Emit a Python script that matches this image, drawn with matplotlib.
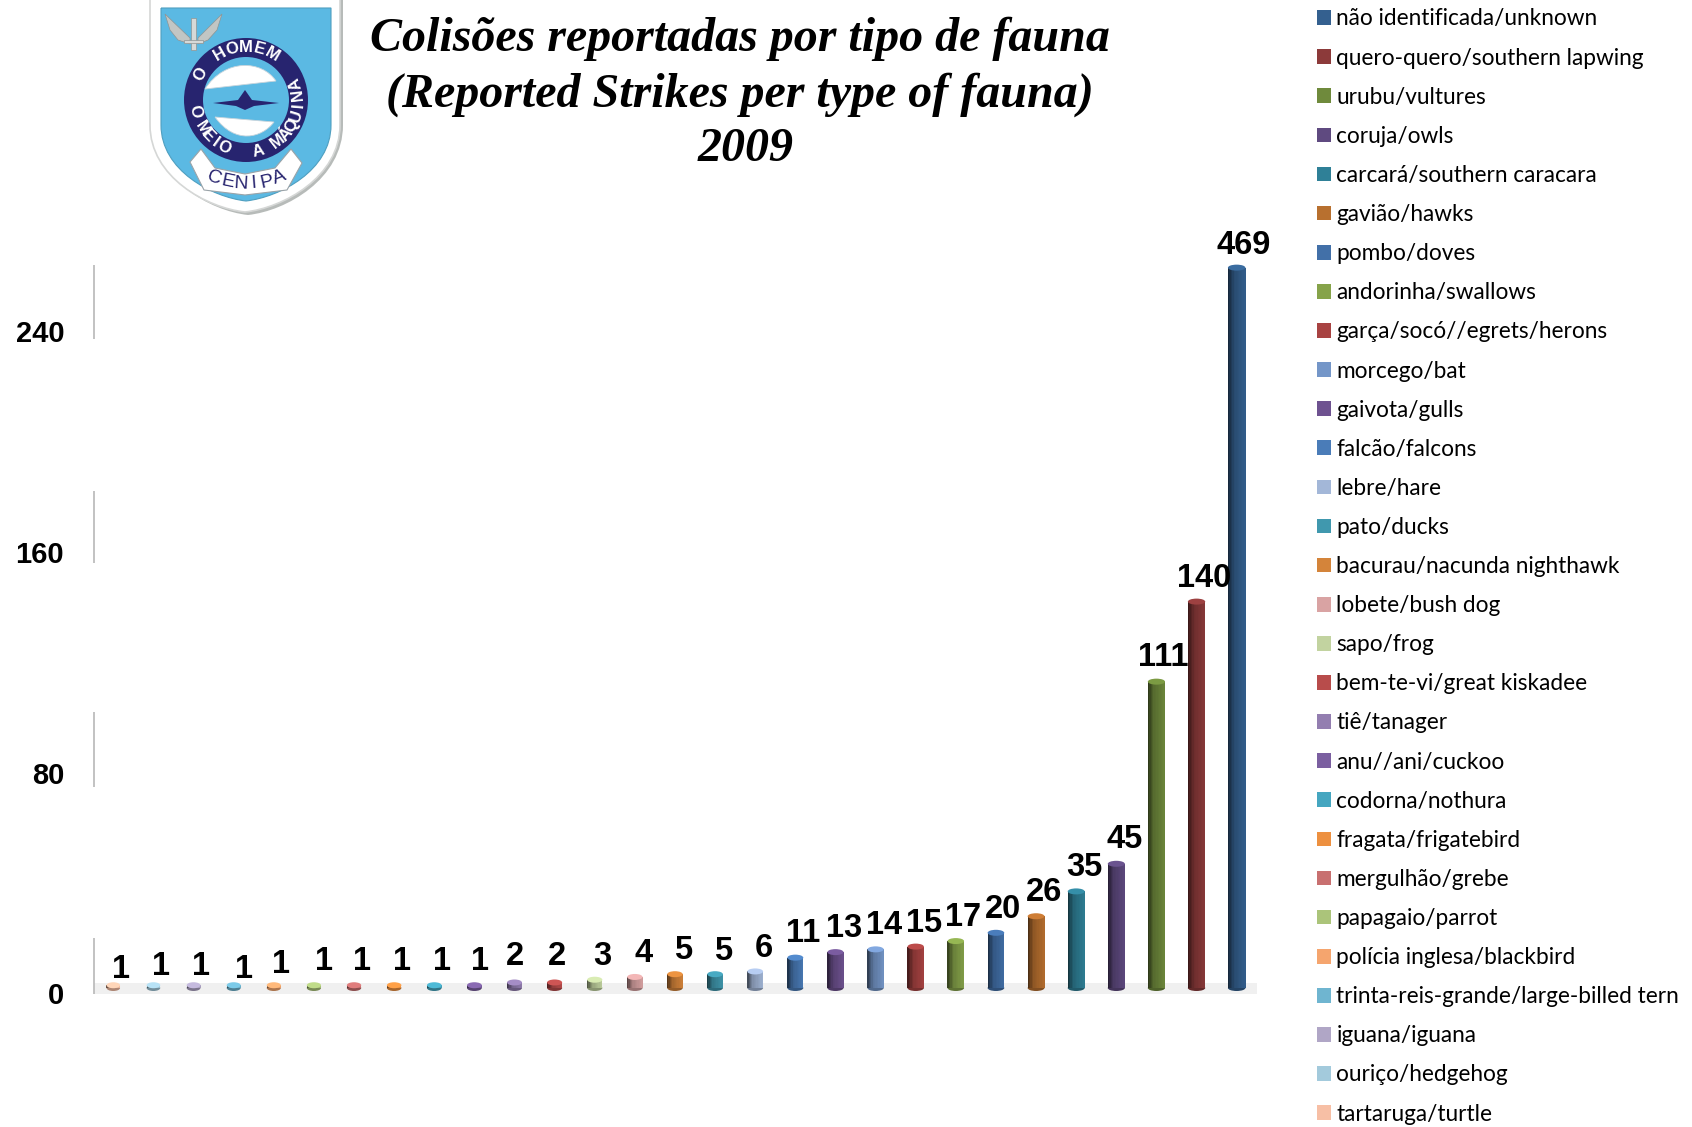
import matplotlib
matplotlib.use("Agg")
import matplotlib.colors as mcolors
import matplotlib.pyplot as plt
import numpy as np
from matplotlib.patches import Circle, Ellipse, Patch, PathPatch, Polygon
from matplotlib.path import Path
from matplotlib.transforms import ScaledTranslation

# legend order, biggest first (chart draws them right to left)
species = [
    "não identificada/unknown", "quero-quero/southern lapwing", "urubu/vultures",
    "coruja/owls", "carcará/southern caracara", "gavião/hawks", "pombo/doves",
    "andorinha/swallows", "garça/socó//egrets/herons", "morcego/bat", "gaivota/gulls",
    "falcão/falcons", "lebre/hare", "pato/ducks", "bacurau/nacunda nighthawk",
    "lobete/bush dog", "sapo/frog", "bem-te-vi/great kiskadee", "tiê/tanager",
    "anu//ani/cuckoo", "codorna/nothura", "fragata/frigatebird", "mergulhão/grebe",
    "papagaio/parrot", "polícia inglesa/blackbird", "trinta-reis-grande/large-billed tern",
    "iguana/iguana", "ouriço/hedgehog", "tartaruga/turtle",
]
strikes = [469, 140, 111, 45, 35, 26, 20, 17, 15, 14, 13, 11, 6, 5, 5, 4, 3, 2, 2,
           1, 1, 1, 1, 1, 1, 1, 1, 1, 1]
colors = [
    "#34608f", "#8c3a3a", "#6f8a3c", "#5f4a80", "#2f8097", "#b8702f", "#4270a8",
    "#86a34a", "#a84342", "#7496c8", "#6e5290", "#4a7cb8", "#a3b7d8", "#4098ae",
    "#d4843a", "#d9a3a3", "#c2d3a0", "#b84c4b", "#937eb0", "#7b5fa0", "#45a6c0",
    "#ed9040", "#c87070", "#abc47a", "#f5a56e", "#6fb5d0", "#b0a6c6", "#a3cadc",
    "#f7bfa5",
]
y_ticks = [0, 80, 160, 240]
title_lines = ["Colisões reportadas por tipo de fauna",
               "(Reported Strikes per type of fauna)", "2009"]

# label offsets from the bar top, left to right on the chart, in pixels
nudge_x = [7.5, 7.5, 7.5, 10, 7.5, 10, 7.5, 7.5, 7.5, 5.5, 0, 2, 7.5, 8.5, 8, 8, 8.5,
           7.5, 8.5, 8.5, 8, 7.5, 7.5, 7.5, 8.5, 8, 6.5, 7.5, 7.5]
nudge_y = [15.4, 18.6, 18.6, 15.4, 20.7, 24, 24, 24, 24, 24, 25.6, 25.6, 22.9, 23.3,
           23.8, 22.7, 23.2, 24.5, 23.3, 23.8, 23.1, 24, 23.4, 24, 24, 24.5, 23.8,
           23.5, 22.5]
# grey axis pieces around each tick, in data units
axis_below = [2, 7, 6, 5]
axis_above = [18, 20, 20, 22]

W, H = 1692, 1127
PX_PER_UNIT = 2.76
Y_TOP = 261
Y_BOTTOM = -3
ZERO_PX = 988
LEFT_PX, RIGHT_PX = 94, 1257
STEP_PX = 40.12
FIRST_BAR_PX = 113.3


def shade(color, k):
    rgb = np.array(mcolors.to_rgb(color))
    return tuple(np.clip(rgb * k, 0, 1))


def draw_bar(ax, x, value, color, width_px):
    # fake the cylinder with thin vertical strips
    top = min(value, Y_TOP)
    w = width_px / STEP_PX
    n = 12
    edges = np.linspace(-w / 2, w / 2, n + 1)
    levels = np.interp(np.linspace(0, 1, n), [0, 0.35, 0.8, 1], [0.42, 0.78, 0.9, 0.95])
    cap_h = 6 / PX_PER_UNIT
    for j in range(n):
        ax.bar(x + (edges[j] + edges[j + 1]) / 2, top, (w / n) * 1.15, bottom=0,
               color=shade(color, levels[j]), linewidth=0, zorder=3, clip_on=False)
    ax.add_patch(Ellipse((x, 0), w, cap_h, color=shade(color, 0.7), lw=0, zorder=2.9, clip_on=False))
    ax.add_patch(Ellipse((x, top), w, cap_h, color=shade(color, 1.12), lw=0, zorder=4, clip_on=False))


def arc_text(ax, s, center, radius, angles, top_out, **kw):
    for ch, ang in zip(s, angles):
        t = np.deg2rad(ang)
        rot = ang - 90 if top_out else ang + 90
        ax.text(center[0] + radius * np.cos(t), center[1] - radius * np.sin(t), ch,
                rotation=rot, rotation_mode="anchor", ha="center", va="center", **kw)


def shield(l, r, top, mid, bottom):
    c = (l + r) / 2
    verts = [(l, top), (r, top), (r, mid), (r, mid + (bottom - mid) * 0.6),
             (c + (r - l) * 0.2, bottom - 4), (c, bottom),
             (c - (r - l) * 0.2, bottom - 4), (l, mid + (bottom - mid) * 0.6), (l, mid), (l, top)]
    codes = [Path.MOVETO, Path.LINETO, Path.LINETO, Path.CURVE4, Path.CURVE4, Path.CURVE4,
             Path.CURVE4, Path.CURVE4, Path.CURVE4, Path.LINETO]
    return Path(verts, codes)


def blob(p0, ctrl0, ctrl1, p1):
    return Path([p0, ctrl0, ctrl1, p1, p0],
                [Path.MOVETO, Path.CURVE4, Path.CURVE4, Path.CURVE4, Path.LINETO])


def draw_logo(ax):
    navy = "#27246f"
    ax.add_patch(PathPatch(shield(153, 343, -6, 125, 215), fc="#b7bbb9", lw=0))
    ax.add_patch(PathPatch(shield(150, 340, -6, 125, 212), fc="white", ec="#d5d7d6", lw=1.2))
    ax.add_patch(PathPatch(shield(161, 331, 8, 125, 201), fc="#5bb9e3", ec="#4f9fc0", lw=0.8))
    # wings and sword
    ax.add_patch(Polygon([(190, 38), (165, 14), (170, 30), (178, 40), (190, 44)], fc="#c2c6c4", ec="#8f9493", lw=0.5))
    ax.add_patch(Polygon([(198, 38), (222, 14), (217, 30), (208, 40), (198, 44)], fc="#c2c6c4", ec="#8f9493", lw=0.5))
    ax.add_patch(Polygon([(191, 18), (196, 18), (196, 50), (191, 50)], fc="#d6d9d8", ec="#8f9493", lw=0.5))
    ax.add_patch(Polygon([(184, 40), (203, 40), (203, 43), (184, 43)], fc="#d6d9d8", ec="#8f9493", lw=0.5))
    # ring
    cx, cy = 246, 100
    ax.add_patch(Circle((cx, cy), 62, fc=navy, lw=0))
    ax.add_patch(Circle((cx, cy), 43, fc="#5bb9e3", lw=0))
    ax.add_patch(PathPatch(blob((205, 89), (225, 58), (262, 60), (276, 81)), fc="white", ec="#c9d5dc", lw=0.6))
    ax.add_patch(PathPatch(blob((215, 117), (235, 145), (262, 138), (274, 122)), fc="white", ec="#c9d5dc", lw=0.6))
    ax.add_patch(Polygon([(213, 103), (238, 100), (245, 90), (252, 100), (279, 103),
                          (254, 106), (245, 110), (236, 106)], fc=navy, lw=0))
    style = dict(color="white", fontsize=12, fontweight="bold", family="Liberation Sans")
    arc_text(ax, "O HOMEM", (cx, cy), 52.5, np.linspace(150, 60, 7), True, **style)
    arc_text(ax, "O MEIO", (cx, cy), 52.5, np.linspace(192, 245, 6), False, **style)
    arc_text(ax, "A MÁQUINA", (cx, cy), 52.5, np.linspace(-76, 18, 9), False, **style)
    # ribbon
    ax.add_patch(Polygon([(190, 162), (201, 149), (215, 168), (245, 174), (275, 168), (291, 149),
                          (302, 163), (287, 190), (245, 195), (204, 190)],
                         fc="white", ec="#9aa3a8", lw=0.8))
    arc_text(ax, "CENIPA", (cx, 92), 92, np.linspace(250, 291, 6), False, color=navy,
             fontsize=14, family="Liberation Sans")


def main():
    plt.rcParams["font.family"] = "Liberation Sans"
    fig = plt.figure(figsize=(W / 100, H / 100), dpi=100)

    # pixel layer for the logo
    bg = fig.add_axes([0, 0, 1, 1])
    bg.set_xlim(0, W)
    bg.set_ylim(H, 0)
    bg.axis("off")
    draw_logo(bg)

    bottom_px = ZERO_PX - Y_BOTTOM * PX_PER_UNIT
    top_px = ZERO_PX - Y_TOP * PX_PER_UNIT
    ax = fig.add_axes([LEFT_PX / W, 1 - bottom_px / H, (RIGHT_PX - LEFT_PX) / W, (bottom_px - top_px) / H])
    ax.patch.set_alpha(0)
    ax.set_xlim((LEFT_PX - FIRST_BAR_PX) / STEP_PX, (RIGHT_PX - FIRST_BAR_PX) / STEP_PX)
    ax.set_ylim(Y_BOTTOM, Y_TOP)
    for s in ax.spines.values():
        s.set_visible(False)

    n = len(strikes)
    ax.axhspan(-2.2, 1.8, color="#f0f0f0", lw=0, zorder=1, clip_on=False)
    for t, lo, hi in zip(y_ticks, axis_below, axis_above):
        ax.vlines(ax.get_xlim()[0], t - lo, t + hi, color="#bdbdbd", lw=1.3, zorder=1, clip_on=False)

    for i in range(n):
        x = n - 1 - i
        value = strikes[i]
        draw_bar(ax, x, value, colors[i], 13.5 + 4 * x / (n - 1))
        ax.annotate(str(value), (x, min(value, Y_TOP)),
                    xytext=(nudge_x[x] * 0.72, nudge_y[x] * 0.72), textcoords="offset points",
                    ha="center", va="center", fontsize=23.5, fontweight="bold", color="black", zorder=5)

    ax.set_xticks([])
    ax.set_yticks(y_ticks)
    ax.set_yticklabels([str(t) for t in y_ticks], fontsize=21, fontweight="bold")
    ax.tick_params(axis="y", length=0, pad=21.5)
    drop = ScaledTranslation(0, -5.5 / 100, fig.dpi_scale_trans)
    for label in ax.get_yticklabels():
        label.set_transform(label.get_transform() + drop)

    for line, cx, cy in zip(title_lines, [740, 740, 746], [39, 95, 149]):
        fig.text(cx / W, 1 - cy / H, line, ha="center", va="center", fontsize=34.6,
                 family="Liberation Serif", style="italic", fontweight="bold")

    handles = [Patch(facecolor=c, edgecolor="none") for c in colors]
    fig.legend(handles, species, loc="upper left", bbox_to_anchor=(1317 / W, 1 - 8.5 / H),
               frameon=False, prop={"family": "Lato", "size": 16.3}, borderpad=0, borderaxespad=0,
               handlelength=0.62, handleheight=0.62, handletextpad=0.24, labelspacing=0.80)

    fig.savefig("out.png", dpi=100)


if __name__ == "__main__":
    main()
